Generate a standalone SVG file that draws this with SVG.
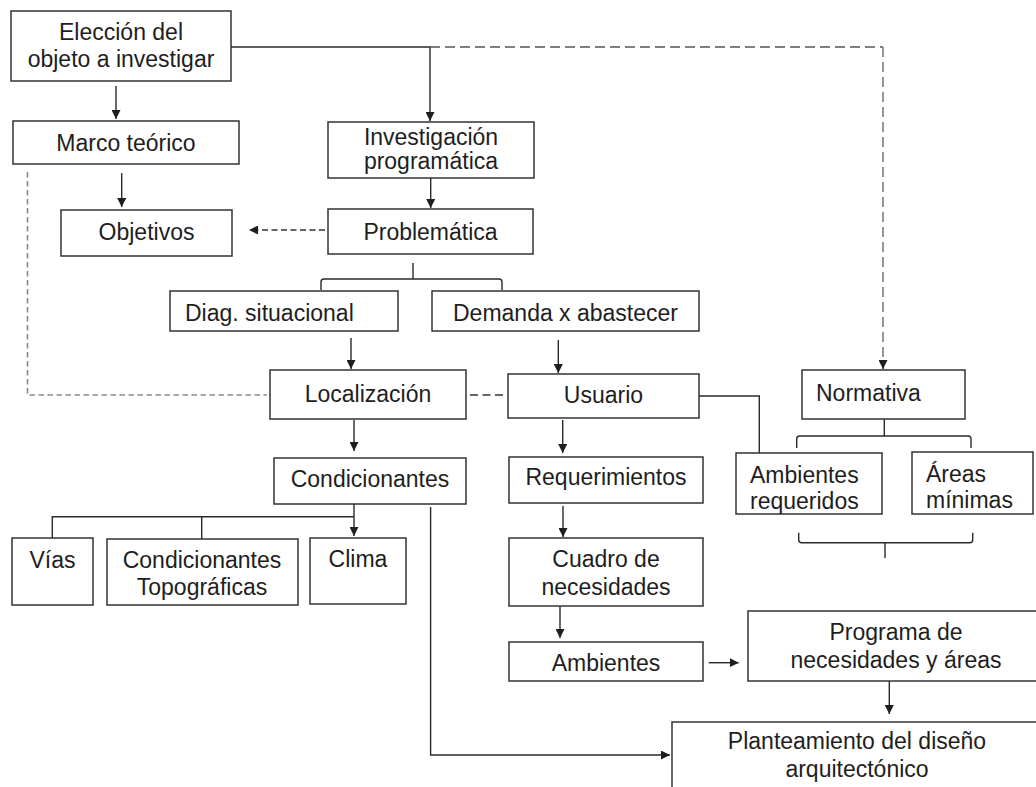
<svg xmlns="http://www.w3.org/2000/svg" width="1036" height="787" viewBox="0 0 1036 787">
  <style>
    .box { fill: #ffffff; stroke: #333333; stroke-width: 1.5; }
    .t { font-family: "Liberation Sans", Arial, sans-serif; font-size: 23px; fill: #1e1e1e; }
    .c { text-anchor: middle; }
    .ln { fill: none; stroke: #2a2a2a; stroke-width: 1.4; }
    .dash-dark { fill: none; stroke: #333333; stroke-width: 1.4; stroke-dasharray: 6 3.5; }
    .dash-long { fill: none; stroke: #333333; stroke-width: 1.4; stroke-dasharray: 8 4.5; }
    .dash-top { fill: none; stroke: #555555; stroke-width: 1.6; stroke-dasharray: 10 5; }
    .dash-side { fill: none; stroke: #8a8a8a; stroke-width: 1.8; stroke-dasharray: 10 5; }
    .dash-gray { fill: none; stroke: #8a8a8a; stroke-width: 1.6; stroke-dasharray: 5.5 3.5; }
  </style>
  <defs>
    <marker id="arr" viewBox="0 0 10 10" refX="10" refY="5" markerWidth="9" markerHeight="9" markerUnits="userSpaceOnUse" orient="auto">
      <path d="M0,0 L10,5 L0,10 z" fill="#1e1e1e"/>
    </marker>
  </defs>
  <rect width="1036" height="787" fill="#ffffff"/>

  <!-- connectors -->
  <g id="connectors">
    <path class="ln" d="M116,86 L116,119" marker-end="url(#arr)"/>
    <path class="ln" d="M231,47 L430,47 L430,121" marker-end="url(#arr)"/>
    <path class="dash-top" d="M430,47 L883,47"/>
    <path class="dash-side" d="M883,47 L883,362"/>
    <path class="ln" d="M883,360 L883,369" marker-end="url(#arr)"/>
    <path class="ln" d="M121.7,173 L121.7,207" marker-end="url(#arr)"/>
    <path class="ln" d="M430.7,178 L430.7,208" marker-end="url(#arr)"/>
    <path class="dash-dark" d="M325,230 L249,230" marker-end="url(#arr)"/>
    <path class="dash-gray" d="M27.5,172 L27.5,395 L267,395"/>
    <!-- bracket under Problemática -->
    <path class="ln" d="M413,263 L413,279 M321,290 L321,282 Q321,279 324,279 L499,279 Q502,279 502,282 L502,290"/>
    <path class="ln" d="M351,338 L351,369" marker-end="url(#arr)"/>
    <path class="ln" d="M558.3,340 L558.3,373" marker-end="url(#arr)"/>
    <path class="dash-long" d="M470,395 L507,395"/>
    <path class="ln" d="M354,420 L354,451" marker-end="url(#arr)"/>
    <path class="ln" d="M52.3,538 L52.3,516.7 L354,516.7 M201.7,516.7 L201.7,539"/>
    <path class="ln" d="M354,504 L354,536" marker-end="url(#arr)"/>
    <path class="ln" d="M430.6,507 L430.6,755 L670,755" marker-end="url(#arr)"/>
    <path class="ln" d="M699,396 L759.3,396 L759.3,453"/>
    <path class="ln" d="M562.7,420 L562.7,453" marker-end="url(#arr)"/>
    <path class="ln" d="M563,506 L563,537" marker-end="url(#arr)"/>
    <path class="ln" d="M560,606 L560,638" marker-end="url(#arr)"/>
    <path class="ln" d="M708.7,662.7 L738.7,662.7" marker-end="url(#arr)"/>
    <path class="ln" d="M889.3,681 L889.3,714" marker-end="url(#arr)"/>
    <!-- bracket under Normativa -->
    <path class="ln" d="M884.3,419 L884.3,436 M796.7,448 L796.7,439 Q796.7,436 799.7,436 L968,436 Q971,436 971,439 L971,448"/>
    <!-- bracket below the norm boxes -->
    <path class="ln" d="M798.7,532.7 L798.7,539.7 Q798.7,542.7 801.7,542.7 L969.7,542.7 Q972.7,542.7 972.7,539.7 L972.7,532.7 M885,542.7 L885,558"/>
  </g>

  <g id="eleccion">
    <rect class="box" x="11" y="11" width="220" height="70"/>
    <text class="t c" x="121" y="40">Elección del</text>
    <text class="t c" x="121" y="67">objeto a investigar</text>
  </g>
  <g id="marco">
    <rect class="box" x="13" y="121" width="226" height="43"/>
    <text class="t c" x="126" y="151">Marco teórico</text>
  </g>
  <g id="investigacion">
    <rect class="box" x="328" y="122" width="206" height="56"/>
    <text class="t c" x="431" y="145">Investigación</text>
    <text class="t c" x="431" y="169">programática</text>
  </g>
  <g id="objetivos">
    <rect class="box" x="61" y="210" width="171" height="46"/>
    <text class="t c" x="146.5" y="240">Objetivos</text>
  </g>
  <g id="problematica">
    <rect class="box" x="328" y="209" width="205" height="45"/>
    <text class="t c" x="430.5" y="240">Problemática</text>
  </g>
  <g id="diag">
    <rect class="box" x="170" y="291" width="228" height="40"/>
    <text class="t" x="185" y="321">Diag. situacional</text>
  </g>
  <g id="demanda">
    <rect class="box" x="432" y="291" width="267" height="40"/>
    <text class="t c" x="565.5" y="321">Demanda x abastecer</text>
  </g>
  <g id="localizacion">
    <rect class="box" x="270" y="370" width="196" height="49"/>
    <text class="t c" x="368" y="402">Localización</text>
  </g>
  <g id="usuario">
    <rect class="box" x="508" y="374" width="191" height="44"/>
    <text class="t c" x="603.5" y="403">Usuario</text>
  </g>
  <g id="normativa">
    <rect class="box" x="802" y="370" width="163" height="49"/>
    <text class="t" x="816" y="401">Normativa</text>
  </g>
  <g id="condicionantes">
    <rect class="box" x="274" y="458" width="192" height="46"/>
    <text class="t c" x="370" y="487">Condicionantes</text>
  </g>
  <g id="requerimientos">
    <rect class="box" x="509" y="457" width="194" height="46"/>
    <text class="t c" x="606" y="485">Requerimientos</text>
  </g>
  <g id="ambientes-requeridos">
    <rect class="box" x="736" y="453" width="146" height="61"/>
    <text class="t" x="750" y="482.5">Ambientes</text>
    <text class="t" x="750" y="509">requeridos</text>
  </g>
  <g id="areas-minimas">
    <rect class="box" x="912" y="452" width="121" height="62"/>
    <text class="t" x="926" y="481.5">Áreas</text>
    <text class="t" x="926" y="508">mínimas</text>
  </g>
  <g id="vias">
    <rect class="box" x="12" y="538" width="81" height="67"/>
    <text class="t c" x="52.5" y="568">Vías</text>
  </g>
  <g id="topograficas">
    <rect class="box" x="107" y="539" width="191" height="66"/>
    <text class="t c" x="202" y="568">Condicionantes</text>
    <text class="t c" x="202" y="595">Topográficas</text>
  </g>
  <g id="clima">
    <rect class="box" x="310" y="538" width="96" height="66"/>
    <text class="t c" x="358" y="567">Clima</text>
  </g>
  <g id="cuadro">
    <rect class="box" x="509" y="538" width="194" height="68"/>
    <text class="t c" x="606" y="567">Cuadro de</text>
    <text class="t c" x="606" y="595">necesidades</text>
  </g>
  <g id="ambientes">
    <rect class="box" x="509" y="642" width="194" height="39"/>
    <text class="t c" x="606" y="671">Ambientes</text>
  </g>
  <g id="programa">
    <rect class="box" x="748" y="611" width="296" height="70"/>
    <text class="t c" x="896" y="640">Programa de</text>
    <text class="t c" x="896" y="668">necesidades y áreas</text>
  </g>
  <g id="planteamiento">
    <rect class="box" x="672" y="722" width="372" height="80"/>
    <text class="t c" x="857" y="749">Planteamiento del diseño</text>
    <text class="t c" x="857" y="777">arquitectónico</text>
  </g>
</svg>
